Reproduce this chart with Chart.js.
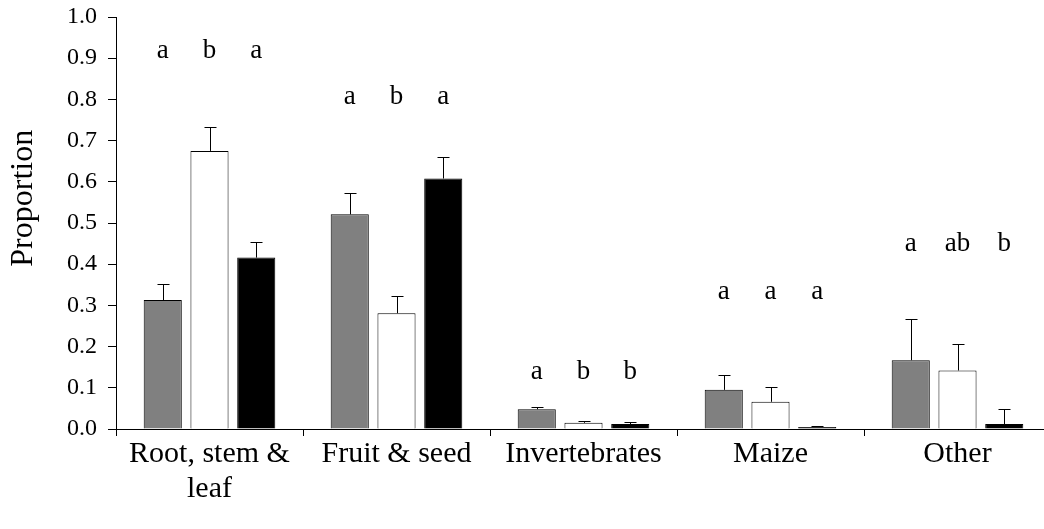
<!DOCTYPE html>
<html>
<head>
<meta charset="utf-8">
<script src="https://cdn.jsdelivr.net/npm/chart.js@4"></script>
<style>
  html, body { margin: 0; padding: 0; background: #fff; overflow: hidden; }
  #wrap { width: 1054px; height: 529px; }
</style>
</head>
<body>
<div id="wrap"><canvas id="chart" width="1054" height="529"></canvas></div>
<script>
var categories = [['Root, stem &', 'leaf'], 'Fruit & seed', 'Invertebrates', 'Maize', 'Other'];

var grayValues  = [0.313, 0.521, 0.048, 0.095, 0.167];
var whiteValues = [0.675, 0.281, 0.015, 0.066, 0.142];
var blackValues = [0.416, 0.608, 0.012, 0.005, 0.012];

var grayErr  = [0.040, 0.052, 0.006, 0.036, 0.099];
var whiteErr = [0.057, 0.041, 0.004, 0.037, 0.065];
var blackErr = [0.039, 0.052, 0.004, 0.003, 0.036];

var grayLetters  = ['a', 'a', 'a', 'a', 'a'];
var whiteLetters = ['b', 'b', 'b', 'a', 'ab'];
var blackLetters = ['a', 'a', 'b', 'a', 'b'];
var letterLevel  = [0.918, 0.805, 0.138, 0.332, 0.45];

var yTicks = [0, 0.1, 0.2, 0.3, 0.4, 0.5, 0.6, 0.7, 0.8, 0.9, 1.0];
var yTitle = 'Proportion';

var errors = [grayErr, whiteErr, blackErr];
var letters = [grayLetters, whiteLetters, blackLetters];
var serif = '"Liberation Serif", "Times New Roman", serif';

// error bars (upper only), significance letters and the y title
var extras = {
    id: 'extras',
    afterDatasetsDraw: function(chart) {
        var c = chart.ctx;
        var y = chart.scales.y;
        c.save();
        c.strokeStyle = '#000';
        c.lineWidth = 1;
        chart.data.datasets.forEach(function(ds, i) {
            var meta = chart.getDatasetMeta(i);
            meta.data.forEach(function(bar, j) {
                var x = Math.round(bar.x) + 0.5;
                var y0 = y.getPixelForValue(ds.data[j]);
                var y1 = Math.round(y.getPixelForValue(ds.data[j] + errors[i][j])) + 0.5;
                c.beginPath();
                c.moveTo(x, y0);
                c.lineTo(x, y1);
                c.moveTo(x - 6, y1);
                c.lineTo(x + 6, y1);
                c.stroke();
            });
        });
        c.fillStyle = '#000';
        c.font = '27px ' + serif;
        c.textAlign = 'center';
        c.textBaseline = 'middle';
        chart.data.datasets.forEach(function(ds, i) {
            var meta = chart.getDatasetMeta(i);
            meta.data.forEach(function(bar, j) {
                c.fillText(letters[i][j], bar.x, y.getPixelForValue(letterLevel[j]));
            });
        });
        // axis title sits above the middle of the axis in the original
        c.font = '32px ' + serif;
        c.translate(24, y.getPixelForValue(0.56));
        c.rotate(-Math.PI / 2);
        c.fillText(yTitle, 0, 0);
        c.restore();
    }
};

var ctx = document.getElementById('chart').getContext('2d');

var chart = new Chart(ctx, {
    type: 'bar',
    data: {
        labels: categories,
        datasets: [{
            label: 'Series 1',
            data: grayValues,
            backgroundColor: '#808080',
            borderColor: '#000',
            borderWidth: 1
        }, {
            label: 'Series 2',
            data: whiteValues,
            backgroundColor: '#ffffff',
            borderColor: '#000',
            borderWidth: 1
        }, {
            label: 'Series 3',
            data: blackValues,
            backgroundColor: '#000000',
            borderColor: '#000',
            borderWidth: 1
        }]
    },
    options: {
        responsive: false,
        animation: false,
        categoryPercentage: 0.75,
        barPercentage: 0.815,
        layout: { padding: { top: 17, right: 3, left: 0, bottom: 0 } },
        plugins: {
            legend: { display: false },
            tooltip: { enabled: false }
        },
        scales: {
            x: {
                grid: { offset: true, drawOnChartArea: false, drawTicks: true, tickLength: 7, color: '#000' },
                border: { display: true, color: '#000', width: 1 },
                ticks: {
                    color: '#000',
                    padding: 1,
                    maxRotation: 0,
                    autoSkip: false,
                    font: { family: serif, size: 30, lineHeight: 1.15 }
                },
                afterFit: function(scale) {
                    scale.height = 100;
                    scale.paddingLeft = 0;
                    scale.paddingRight = 0;
                }
            },
            y: {
                min: 0,
                max: 1,
                afterBuildTicks: function(scale) {
                    scale.ticks = yTicks.map(function(v) { return { value: v }; });
                },
                grid: { drawOnChartArea: false, drawTicks: true, tickLength: 8, color: '#000' },
                border: { display: true, color: '#000', width: 1 },
                ticks: {
                    color: '#000',
                    padding: 11,
                    callback: function(v) { return Number(v).toFixed(1); },
                    font: { family: serif, size: 24 }
                },
                afterFit: function(scale) {
                    scale.width = 116;
                    scale.paddingTop = 0;
                    scale.paddingBottom = 0;
                }
            }
        }
    },
    plugins: [extras]
});
</script>
</body>
</html>
